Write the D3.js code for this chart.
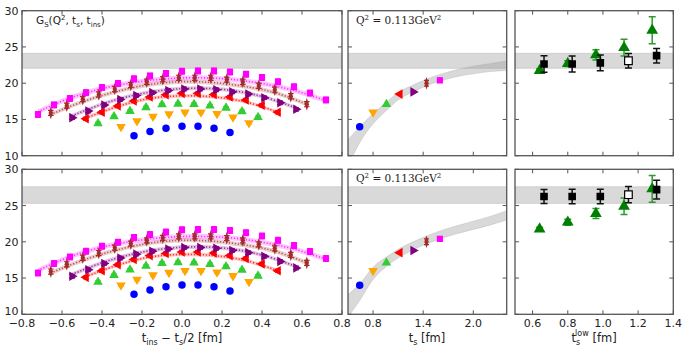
<!DOCTYPE html>
<html>
<head>
<meta charset="utf-8">
<script src="https://cdn.jsdelivr.net/npm/d3@7"></script>
<style>
  body { margin: 0; background: #fff; }
  svg { font-family: "DejaVu Sans", sans-serif; }
</style>
</head>
<body>
<div id="chart"></div>
<script>
// ratio data vs t_ins - t_s/2, one array pair per source-sink separation
const blueX = [-0.24, -0.16, -0.08, 0, 0.08, 0.16, 0.24];
const blueY = [12.75, 13.35, 13.8, 14.05, 14.05, 13.8, 13.2];
const orangeX = [-0.305, -0.225, -0.145, -0.065, 0.015, 0.095, 0.175, 0.255, 0.335];
const orangeY = [14.0, 14.8, 15.4, 15.75, 16.0, 16.0, 15.8, 15.3, 14.5];
const greenX = [-0.42, -0.34, -0.26, -0.18, -0.10, -0.02, 0.06, 0.14, 0.22, 0.30, 0.38];
const greenY = [14.45, 15.4, 16.15, 16.65, 17.05, 17.15, 17.1, 16.9, 16.6, 16.1, 15.3];
const redX = [-0.48, -0.40, -0.32, -0.24, -0.16, -0.08, 0, 0.08, 0.16, 0.24, 0.32, 0.40, 0.48];
const redY = [15.1, 16.0, 16.85, 17.55, 18.1, 18.4, 18.6, 18.6, 18.45, 18.1, 17.7, 16.95, 16.0];
const purpleX = [-0.55, -0.47, -0.39, -0.31, -0.23, -0.15, -0.07, 0.01, 0.09, 0.17, 0.25, 0.33, 0.41, 0.49, 0.57];
const purpleY = [15.25, 16.15, 17.0, 17.75, 18.3, 18.7, 19.0, 19.2, 19.2, 19.1, 18.8, 18.5, 18.0, 17.3, 16.4];
const brownX = [-0.656, -0.576, -0.496, -0.416, -0.336, -0.256, -0.176, -0.096, -0.016, 0.064, 0.144, 0.224, 0.304, 0.384, 0.464, 0.544, 0.624];
const brownY = [15.9, 16.9, 17.8, 18.45, 19.2, 19.75, 20.2, 20.55, 20.75, 20.75, 20.75, 20.5, 20.2, 19.65, 19.1, 18.2, 17.1];
const magentaX = [-0.72, -0.64, -0.56, -0.48, -0.40, -0.32, -0.24, -0.16, -0.08, 0, 0.08, 0.16, 0.24, 0.32, 0.40, 0.48, 0.56, 0.64, 0.72];
const magentaY = [15.7, 17.0, 17.9, 18.7, 19.4, 19.95, 20.6, 21.0, 21.35, 21.65, 21.7, 21.7, 21.55, 21.25, 20.8, 20.2, 19.5, 18.65, 17.7];
const insErr = [0.1, 0.15, 0.18, 0.22, 0.25, 0.35, 0.4];

// fit bands on the ratio (centre values)
const redFitX = [-0.48, -0.32, -0.16, 0, 0.16, 0.32, 0.48];
const redFitY = [15.2, 16.8, 17.9, 18.25, 18.1, 17.4, 16.0];
const purpleFitX = [-0.55, -0.39, -0.23, -0.07, 0.09, 0.25, 0.41, 0.57];
const purpleFitY = [15.5, 17.2, 18.4, 19.1, 19.3, 19.0, 18.1, 16.6];
const brownFitX = [-0.656, -0.496, -0.336, -0.176, -0.016, 0.144, 0.304, 0.464, 0.624];
const brownFitY = [15.7, 17.45, 18.8, 19.75, 20.2, 20.1, 19.6, 18.7, 17.1];
const magentaFitX = [-0.72, -0.56, -0.40, -0.24, -0.08, 0.08, 0.24, 0.40, 0.56, 0.72];
const magentaFitY = [16.05, 17.95, 19.25, 20.1, 20.6, 20.75, 20.55, 19.95, 19.0, 17.6];
const fitHalf = [0.25, 0.28, 0.3, 0.35];

// middle panel: midpoint value vs t_s
const midTs = [0.64, 0.80, 0.96, 1.12, 1.28, 1.44, 1.60];
const midG = [14.0, 16.0, 17.1, 18.5, 18.8, 20.0, 20.4];
const midErr = [0.15, 0.2, 0.2, 0.2, 0.2, 0.4, 0.3];

// t_s fit bands (top row, bottom row)
const bandTs = [0.5, 0.64, 0.8, 0.96, 1.12, 1.28, 1.44, 1.6, 1.8, 2.0, 2.2, 2.4];
const topBandLo = [8.6, 11.8, 14.4, 16.25, 17.85, 18.8, 19.65, 20.3, 20.9, 21.3, 21.6, 21.75];
const topBandHi = [12.2, 14.0, 15.8, 17.4, 18.85, 19.75, 20.55, 21.2, 21.85, 22.35, 22.7, 23.05];
const botBandLo = [9.6, 11.9, 14.8, 16.6, 17.9, 18.9, 19.7, 20.4, 21.1, 21.7, 22.3, 23.0];
const botBandHi = [12.7, 14.2, 16.5, 17.9, 19.1, 20.0, 20.8, 21.5, 22.2, 22.85, 23.5, 24.3];

// plateau results (grey horizontal bands)
const plateauTop = [22.05, 24.12];
const plateauBot = [25.3, 27.6];

// right panel: vs t_s^low
const lowTsGreen = [0.64, 0.80, 0.96, 1.12, 1.28];
const greenG = [21.75, 22.7, 23.9, 24.9, 27.3];
const greenErr = [0.25, 0.4, 0.7, 1.15, 1.85];
const lowTsBlack = [0.665, 0.825, 0.985, 1.145, 1.305];
const blackTop = [22.65, 22.65, 22.8, 23.1, 23.8];
const blackTopErr = [1.15, 1.1, 1.08, 1.0, 1.0];
const blackBot = [26.25, 26.25, 26.25, 26.5, 27.2];
const blackBotErr = [0.97, 1.0, 1.0, 1.13, 1.3];
const openPoint = 3;

const W = 688, H = 351;
const svg = d3.select("#chart").append("svg")
  .attr("width", W).attr("height", H);

const rows = [{ top: 10.7, bottom: 155.7 }, { top: 169.3, bottom: 314.3 }];
const cols = [
  { l: 22, r: 342, domain: [-0.8, 0.8], ticks: [-0.8, -0.6, -0.4, -0.2, 0, 0.2, 0.4, 0.6, 0.8] },
  { l: 348, r: 506.7, domain: [0.5, 2.4], ticks: [0.8, 1.4, 2.0] },
  { l: 515, r: 673.3, domain: [0.5, 1.4], ticks: [0.6, 0.8, 1.0, 1.2, 1.4] }
];
const fmt = d3.format(".1f");
const frame = "#555";

const sym = {
  circle: { type: d3.symbolCircle, size: 44, rot: 0 },
  down: { type: d3.symbolTriangle, size: 40, rot: 180 },
  up: { type: d3.symbolTriangle, size: 40, rot: 0 },
  left: { type: d3.symbolTriangle, size: 40, rot: -90 },
  right: { type: d3.symbolTriangle, size: 40, rot: 90 },
  diamond: { type: d3.symbolDiamond, size: 46, rot: 0, sx: 0.6 },
  square: { type: d3.symbolSquare, size: 38, rot: 0 }
};

const series = [
  { x: blueX, y: blueY, color: "#0000ff", s: sym.circle },
  { x: orangeX, y: orangeY, color: "#ffa500", s: sym.down },
  { x: greenX, y: greenY, color: "#32cd32", s: sym.up },
  { x: redX, y: redY, color: "#ff0000", s: sym.left },
  { x: purpleX, y: purpleY, color: "#800080", s: sym.right },
  { x: brownX, y: brownY, color: "#a52a2a", s: sym.diamond },
  { x: magentaX, y: magentaY, color: "#ff00ff", s: sym.square }
];
const fits = [
  { x: redFitX, y: redFitY, color: "#ff0000" },
  { x: purpleFitX, y: purpleFitY, color: "#800080" },
  { x: brownFitX, y: brownFitY, color: "#a52a2a" },
  { x: magentaFitX, y: magentaFitY, color: "#ff00ff" }
];

function marker(g, s, color, cx, cy, fill) {
  g.append("path")
    .attr("d", d3.symbol().type(s.type).size(s.size)())
    .attr("transform", `translate(${cx},${cy}) rotate(${s.rot}) scale(${s.sx || 1},1)`)
    .attr("fill", fill || color)
    .attr("stroke", color)
    .attr("stroke-width", fill ? 1.2 : 0);
}

function errbar(g, color, cx, y0, y1, cap, w) {
  g.append("line").attr("x1", cx).attr("x2", cx).attr("y1", y0).attr("y2", y1)
    .attr("stroke", color).attr("stroke-width", w || 1.2);
  [y0, y1].forEach(yy => g.append("line")
    .attr("x1", cx - cap).attr("x2", cx + cap).attr("y1", yy).attr("y2", yy)
    .attr("stroke", color).attr("stroke-width", w || 1.2));
}

rows.forEach((row, ri) => {
  const y = d3.scaleLinear().domain([10, 30]).range([row.bottom, row.top]);
  const plateau = ri === 0 ? plateauTop : plateauBot;

  cols.forEach((col, ci) => {
    const x = d3.scaleLinear().domain(col.domain).range([col.l, col.r]);
    const id = `clip${ri}${ci}`;
    svg.append("clipPath").attr("id", id).append("rect")
      .attr("x", col.l).attr("y", row.top)
      .attr("width", col.r - col.l).attr("height", row.bottom - row.top);
    const g = svg.append("g").attr("clip-path", `url(#${id})`);

    // plateau band
    g.append("rect")
      .attr("x", col.l).attr("width", col.r - col.l)
      .attr("y", y(plateau[1])).attr("height", y(plateau[0]) - y(plateau[1]))
      .attr("fill", "#999").attr("fill-opacity", 0.37)
      .attr("stroke", "#999").attr("stroke-opacity", 0.3);

    if (ci === 0) {
      fits.forEach((f, fi) => {
        const pts = f.x.map((v, i) => [v, f.y[i]]);
        g.append("path").datum(pts)
          .attr("d", d3.area().curve(d3.curveCatmullRom)
            .x(d => x(d[0])).y0(d => y(d[1] - fitHalf[fi])).y1(d => y(d[1] + fitHalf[fi])))
          .attr("fill", f.color).attr("fill-opacity", 0.22);
        g.append("path").datum(pts)
          .attr("d", d3.line().curve(d3.curveCatmullRom).x(d => x(d[0])).y(d => y(d[1])))
          .attr("fill", "none").attr("stroke", f.color).attr("stroke-opacity", 0.75)
          .attr("stroke-width", 1.6).attr("stroke-dasharray", "1.2,1.8");
      });
      series.forEach((s, si) => {
        s.x.forEach((v, i) => {
          const e = insErr[si];
          if (e > 0.12) errbar(g, s.color, x(v), y(s.y[i] - e), y(s.y[i] + e), 2.8);
          marker(g, s.s, s.color, x(v), y(s.y[i]));
        });
      });
    }

    if (ci === 1) {
      const lo = ri === 0 ? topBandLo : botBandLo;
      const hi = ri === 0 ? topBandHi : botBandHi;
      g.append("path").datum(bandTs.map((t, i) => [t, lo[i], hi[i]]))
        .attr("d", d3.area().curve(d3.curveMonotoneX)
          .x(d => x(d[0])).y0(d => y(d[1])).y1(d => y(d[2])))
        .attr("fill", "#999").attr("fill-opacity", 0.37)
        .attr("stroke", "#999").attr("stroke-opacity", 0.25);
      midTs.forEach((t, i) => {
        const s = series[i];
        if (midErr[i] > 0.25) errbar(g, s.color, x(t), y(midG[i] - midErr[i]), y(midG[i] + midErr[i]), 2.5);
        marker(g, s.s, s.color, x(t), y(midG[i]));
      });
    }

    if (ci === 2) {
      const vals = ri === 0 ? blackTop : blackBot;
      const errs = ri === 0 ? blackTopErr : blackBotErr;
      lowTsGreen.forEach((t, i) => {
        errbar(g, "#2e9a2e", x(t), y(greenG[i] - greenErr[i]), y(greenG[i] + greenErr[i]), 3.5, 1.5);
        marker(g, { type: d3.symbolTriangle, size: 60, rot: 0 }, "#008000", x(t), y(greenG[i]));
      });
      lowTsBlack.forEach((t, i) => {
        errbar(g, "#111", x(t), y(vals[i] - errs[i]), y(vals[i] + errs[i]), 3.5, 1.5);
        marker(g, { type: d3.symbolSquare, size: 58, rot: 0 }, "#000", x(t), y(vals[i]),
          i === openPoint ? "#fff" : null);
      });
    }

    // frame and inward ticks
    const fr = svg.append("g");
    fr.append("rect").attr("x", col.l).attr("y", row.top)
      .attr("width", col.r - col.l).attr("height", row.bottom - row.top)
      .attr("fill", "none").attr("stroke", frame).attr("stroke-width", 1.3);
    col.ticks.forEach(t => {
      const xx = x(t);
      fr.append("line").attr("x1", xx).attr("x2", xx).attr("y1", row.bottom).attr("y2", row.bottom - 4)
        .attr("stroke", frame);
      fr.append("line").attr("x1", xx).attr("x2", xx).attr("y1", row.top).attr("y2", row.top + 4)
        .attr("stroke", frame);
      if (ri === 1) {
        fr.append("text").attr("x", xx).attr("y", row.bottom + 13)
          .attr("text-anchor", "middle").attr("font-size", 11).attr("fill", "#222")
          .text(fmt(t).replace("-", "\u2212"));
      }
    });
    [10, 15, 20, 25, 30].forEach(t => {
      const yy = y(t);
      fr.append("line").attr("x1", col.l).attr("x2", col.l + 4).attr("y1", yy).attr("y2", yy).attr("stroke", frame);
      fr.append("line").attr("x1", col.r).attr("x2", col.r - 4).attr("y1", yy).attr("y2", yy).attr("stroke", frame);
      if (ci === 0) {
        fr.append("text").attr("x", 18.5).attr("y", yy).attr("dy", t === 10 && ri === 1 ? "0.05em" : "0.36em")
          .attr("text-anchor", "end").attr("font-size", 11).attr("fill", "#222").text(t);
      }
    });

    if (ci === 1) {
      const q = svg.append("text").attr("x", col.l + 8).attr("y", row.top + 13)
        .attr("font-size", 10.5).attr("fill", "#222").attr("font-family", "DejaVu Serif");
      q.append("tspan").text("Q");
      q.append("tspan").attr("font-size", 7).attr("dy", -4).text("2");
      q.append("tspan").attr("dy", 4).text(" = 0.113GeV");
      q.append("tspan").attr("font-size", 7).attr("dy", -4).text("2");
    }
  });
});

// panel label
const gl = svg.append("text").attr("x", 36).attr("y", 24).attr("font-size", 10.5).attr("fill", "#222");
gl.append("tspan").text("G");
gl.append("tspan").attr("font-size", 7).attr("dy", 3).text("S");
gl.append("tspan").attr("dy", -3).text("(Q");
gl.append("tspan").attr("font-size", 7).attr("dy", -4).text("2");
gl.append("tspan").attr("dy", 4).text(", t");
gl.append("tspan").attr("font-size", 7).attr("dy", 3).text("s");
gl.append("tspan").attr("dy", -3).text(", t");
gl.append("tspan").attr("font-size", 7).attr("dy", 3).text("ins");
gl.append("tspan").attr("dy", -3).text(")");

// axis titles
const ty = 342;
const t1 = svg.append("text").attr("x", 182).attr("y", ty).attr("text-anchor", "middle")
  .attr("font-size", 11.5).attr("fill", "#222");
t1.append("tspan").text("t");
t1.append("tspan").attr("font-size", 8).attr("dy", 3).text("ins");
t1.append("tspan").attr("dy", -3).text(" \u2212 t");
t1.append("tspan").attr("font-size", 8).attr("dy", 3).text("s");
t1.append("tspan").attr("dy", -3).text("/2 [fm]");

const t2 = svg.append("text").attr("x", 427).attr("y", ty).attr("text-anchor", "middle")
  .attr("font-size", 11.5).attr("fill", "#222");
t2.append("tspan").text("t");
t2.append("tspan").attr("font-size", 8).attr("dy", 3).text("s");
t2.append("tspan").attr("dy", -3).text(" [fm]");

const t3 = svg.append("text").attr("x", 594).attr("y", ty).attr("text-anchor", "middle")
  .attr("font-size", 11.5).attr("fill", "#222");
t3.append("tspan").text("t");
t3.append("tspan").attr("font-size", 8).attr("dy", 3).text("s");
t3.append("tspan").attr("font-size", 8).attr("dx", -5).attr("dy", -9).text("low");
t3.append("tspan").attr("dy", 6).text(" [fm]");
</script>
</body>
</html>
